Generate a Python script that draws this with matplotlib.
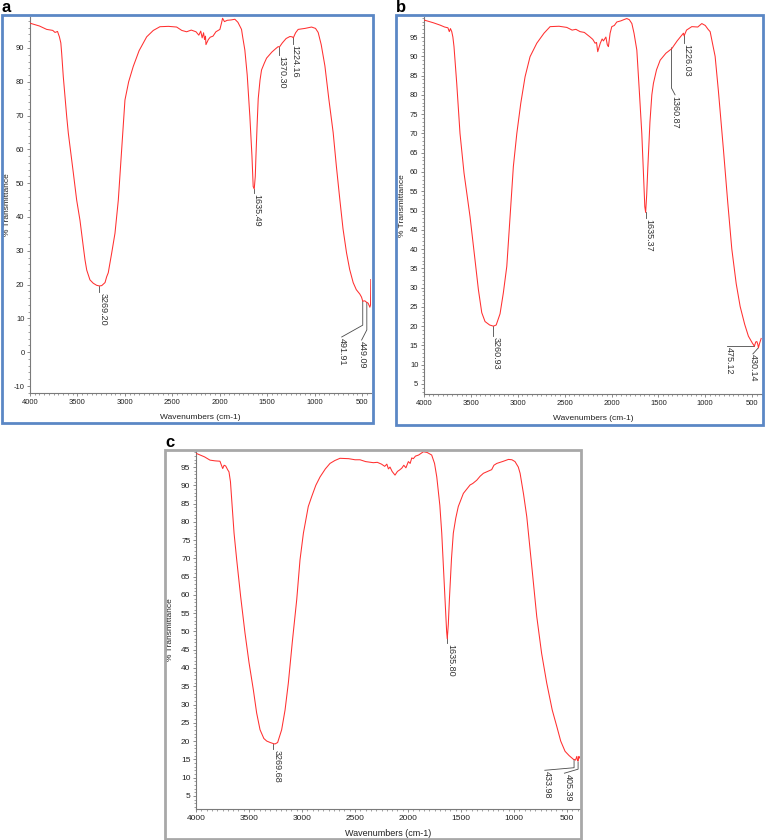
import matplotlib
matplotlib.use('Agg')
import matplotlib.pyplot as plt
from matplotlib.patches import Rectangle
from matplotlib.ticker import MultipleLocator
from matplotlib import font_manager

# ---------------- data ----------------
a_wn = [3995, 3900, 3824, 3780, 3760, 3736, 3710, 3690, 3675, 3666,
        3649, 3613, 3596, 3543, 3508, 3473, 3438, 3420, 3402, 3368,
        3333, 3298, 3269, 3244, 3209, 3192, 3175, 3139, 3104, 3069,
        3034, 2999, 2960, 2912, 2850, 2770, 2700, 2630, 2540, 2454,
        2400, 2349, 2300, 2250, 2220, 2200, 2185, 2170, 2160, 2150,
        2145, 2120, 2100, 2071, 2040, 1998, 1980, 1970, 1950, 1920,
        1880, 1840, 1808, 1770, 1758, 1735, 1710, 1682, 1660, 1647,
        1636, 1625, 1618, 1606, 1594, 1575, 1559, 1530, 1506, 1450,
        1410, 1384, 1370, 1340, 1300, 1260, 1235, 1224, 1200, 1173,
        1100, 1032, 990, 962, 930, 891, 850, 804, 770, 733,
        700, 663, 630, 593, 560, 523, 505, 492, 470, 453,
        435, 417, 410, 407]
a_T = [97.3, 96.5, 95.5, 95.3, 95.2, 94.6, 94.9, 93.3, 91.5, 88.4,
       81.5, 69.7, 64.8, 53.0, 45.0, 39.0, 31.2, 27.3, 24.3, 21.4,
       20.4, 19.8, 19.6, 19.7, 20.6, 22.3, 23.5, 29.3, 35.2, 45.0,
       59.8, 74.6, 80.0, 84.5, 89.2, 93.3, 95.2, 96.3, 96.4, 96.2,
       95.2, 94.8, 95.3, 94.8, 93.8, 95.0, 93.0, 94.5, 92.5, 93.5,
       91.0, 92.5, 93.2, 93.5, 94.8, 95.5, 97.5, 98.8, 97.8, 98.2,
       98.3, 98.5, 97.6, 95.5, 93.3, 89.4, 82.0, 69.7, 58.0, 49.0,
       48.3, 52.0, 58.0, 67.0, 75.0, 80.5, 83.5, 85.5, 87.0, 88.8,
       89.8, 90.4, 90.3, 91.5, 92.8, 93.4, 93.3, 93.0, 94.5, 95.5,
       95.8, 96.2, 95.8, 94.6, 91.0, 84.7, 75.0, 65.0, 55.0, 45.0,
       36.5, 29.4, 24.5, 20.6, 18.5, 17.2, 16.3, 15.1, 15.2, 14.8,
       14.5, 13.3, 14.0, 21.5]

b_wn = [3997, 3900, 3829, 3780, 3745, 3730, 3718, 3704, 3692, 3680,
        3651, 3616, 3573, 3509, 3456, 3420, 3384, 3349, 3300, 3260,
        3230, 3189, 3154, 3117, 3082, 3047, 3010, 2968, 2922, 2869,
        2797, 2720, 2655, 2560, 2477, 2420, 2380, 2335, 2290, 2228,
        2200, 2175, 2160, 2147, 2120, 2100, 2086, 2060, 2045, 2033,
        2015, 1997, 1970, 1944, 1900, 1870, 1837, 1810, 1783, 1760,
        1730, 1702, 1677, 1660, 1645, 1636, 1625, 1613, 1590, 1570,
        1553, 1520, 1481, 1420, 1357, 1300, 1260, 1233, 1226, 1200,
        1144, 1080, 1037, 1000, 970, 948, 920, 895, 860, 806,
        760, 717, 670, 628, 580, 540, 500, 476, 462, 450,
        440, 433, 420, 404]
b_T = [99.4, 98.7, 98.1, 97.6, 97.4, 96.4, 97.2, 96.4, 95.0, 92.5,
       83.0, 70.0, 59.7, 48.4, 37.2, 29.5, 23.5, 21.2, 20.3, 20.0,
       20.3, 23.2, 28.6, 35.5, 48.4, 61.4, 70.0, 77.8, 84.7, 89.9,
       93.4, 96.0, 97.7, 97.8, 97.5, 96.8, 97.0, 96.4, 96.2, 95.0,
       94.4, 93.4, 93.6, 91.2, 93.4, 94.5, 94.0, 95.0, 93.0, 92.5,
       96.0, 97.7, 98.0, 98.9, 99.2, 99.5, 99.8, 99.5, 98.5, 96.0,
       91.6, 80.4, 70.0, 60.0, 51.0, 49.5, 54.0, 61.0, 73.0, 80.0,
       83.0, 86.5, 89.0, 90.8, 92.0, 94.0, 95.2, 96.0, 95.3, 96.8,
       97.7, 97.6, 98.5, 98.0, 97.0, 96.4, 93.0, 90.0, 81.0, 65.7,
       52.0, 40.0, 31.0, 25.1, 20.5, 17.4, 15.7, 14.8, 15.9, 16.0,
       15.3, 14.4, 15.6, 16.8]

c_wn = [3994, 3920, 3868, 3820, 3774, 3760, 3748, 3735, 3720, 3700,
        3689, 3675, 3663, 3641, 3616, 3579, 3538, 3500, 3459, 3428,
        3396, 3360, 3333, 3300, 3270, 3255, 3230, 3192, 3160, 3129,
        3091, 3050, 3019, 2987, 2941, 2909, 2870, 2830, 2780, 2736,
        2690, 2642, 2560, 2500, 2453, 2400, 2327, 2290, 2250, 2220,
        2200, 2185, 2170, 2150, 2123, 2100, 2080, 2059, 2040, 2020,
        1997, 1980, 1965, 1950, 1930, 1900, 1855, 1820, 1777, 1750,
        1729, 1700, 1682, 1651, 1636, 1630, 1620, 1610, 1590, 1573,
        1550, 1526, 1478, 1415, 1390, 1352, 1320, 1289, 1250, 1211,
        1190, 1163, 1100, 1053, 1020, 991, 960, 943, 910, 880,
        830, 786, 740, 692, 640, 597, 560, 519, 480, 440,
        420, 408, 400, 395, 388, 384]
c_T = [98.7, 97.8, 96.9, 96.7, 96.6, 95.5, 94.6, 95.5, 95.3, 94.2,
       93.7, 91.0, 86.0, 76.9, 69.6, 59.6, 49.6, 41.5, 34.0, 27.7,
       23.1, 20.7, 20.0, 19.6, 19.3, 19.2, 19.6, 23.1, 28.5, 35.9,
       47.3, 58.7, 69.6, 76.9, 84.2, 86.9, 90.0, 92.3, 94.5, 96.0,
       96.8, 97.4, 97.3, 97.0, 97.0, 96.5, 96.2, 96.3, 95.8, 95.2,
       95.8, 94.5, 95.0, 93.8, 92.8, 93.8, 94.2, 94.7, 95.5, 94.8,
       96.5, 96.0, 97.5, 97.3, 98.0, 98.3, 99.2, 99.0, 98.3, 96.0,
       92.3, 84.5, 76.9, 58.7, 50.0, 48.0, 52.0, 58.7, 70.0, 76.9,
       81.0, 84.2, 87.8, 90.1, 90.5, 91.4, 92.5, 93.3, 93.8, 94.3,
       95.5, 96.0, 96.6, 97.1, 97.0, 96.5, 95.0, 93.3, 87.5, 81.4,
       67.0, 54.1, 44.0, 35.9, 28.5, 24.0, 20.0, 17.2, 16.0, 15.0,
       14.8, 15.8, 14.6, 14.6, 15.8, 15.4]

# peak labels: text, leader path (wavenumber, %T vertices), text anchor
a_labels = ['3269.20', '1635.49', '1370.30', '1224.16', '491.91', '449.09']
a_paths = [[(3269, 19.6), (3269, 17.8)],
           [(1636, 48.3), (1636, 47.0)],
           [(1376, 90.3), (1376, 88.0)],
           [(1230, 93.3), (1230, 91.2)],
           [(492, 15.1), (492, 8.0), (714, 4.5)],
           [(449, 14.7), (449, 6.6), (504, 3.6)]]
a_text = [(3232, 17.6), (1610, 46.9), (1347, 87.6), (1205, 91.0),
          (708, 4.3), (493, 3.4)]

b_labels = ['3260.93', '1635.37', '1360.87', '1226.03', '475.12', '430.14']
b_paths = [[(3261, 20.0), (3261, 17.5)],
           [(1636, 49.5), (1636, 48.1)],
           [(1361, 92.2), (1361, 81.8), (1322, 80.0)],
           [(1228, 95.5), (1228, 93.4)],
           [(476, 14.8), (770, 14.8)],
           [(433, 14.4), (492, 12.8)]]
b_text = [(3232, 17.3), (1606, 47.9), (1322, 79.8), (1196, 93.2),
          (740, 14.6), (492, 12.7)]

c_labels = ['3269.68', '1635.80', '433.98', '405.39']
c_paths = [[(3270, 19.3), (3270, 17.7)],
           [(1636, 49.0), (1636, 46.9)],
           [(434, 14.9), (434, 12.7), (710, 12.0)],
           [(396, 14.3), (396, 12.3), (525, 11.2)]]
c_text = [(3239, 17.6), (1594, 46.6), (682, 11.9), (487, 11.1)]

x_ticks = [4000, 3500, 3000, 2500, 2000, 1500, 1000, 500]
a_yticks = list(range(-10, 91, 10))
b_yticks = list(range(5, 96, 5))
c_yticks = list(range(5, 96, 5))

# ---------------- figure ----------------
W, H = 765, 840
fig = plt.figure(figsize=(W / 100, H / 100), dpi=100)
fig.patch.set_facecolor('white')


def has_font(name):
    try:
        font_manager.findfont(name, fallback_to_default=False)
        return True
    except Exception:
        return False


NARROW = 'Liberation Sans Narrow' if has_font('Liberation Sans Narrow') else 'Liberation Sans'
SANS = 'Liberation Sans'
RED = '#ff3030'
GRAY = '#4a4a4a'
AXC = '#7a7a7a'


def fx(px):
    return px / W


def fy(py):
    return 1 - py / H


def frame(x0, y0, x1, y1, color):
    r = Rectangle((fx(x0), fy(y1)), (x1 - x0) / W, (y1 - y0) / H,
                  transform=fig.transFigure, fill=False, edgecolor=color,
                  linewidth=2.0, zorder=10)
    fig.add_artist(r)


def panel(box, xlim, ylim, yticks, yminor, wn, T, labels, paths, texts,
          letter, letter_xy, tick_size, ylab_px):
    x0, y0, x1, y1 = box
    ax = fig.add_axes([fx(x0), fy(y1), (x1 - x0) / W, (y1 - y0) / H])
    ax.plot(wn, T, color=RED, lw=0.75, zorder=3)
    ax.set_xlim(*xlim)
    ax.set_ylim(*ylim)
    ax.set_xticks(x_ticks)
    ax.set_xticklabels([str(v) for v in x_ticks], family=NARROW, fontsize=tick_size)
    ax.xaxis.set_minor_locator(MultipleLocator(50))
    ax.set_yticks(yticks)
    ax.set_yticklabels([str(v) for v in yticks], family=NARROW, fontsize=tick_size)
    ax.yaxis.set_minor_locator(MultipleLocator(yminor))
    for s in ['top', 'right']:
        ax.spines[s].set_visible(False)
    for s in ['left', 'bottom']:
        ax.spines[s].set_color(AXC)
        ax.spines[s].set_linewidth(0.8)
    ax.tick_params(which='major', length=2.5, width=0.6, color=AXC, pad=1.5,
                   labelcolor='#222222')
    ax.tick_params(which='minor', length=1.3, width=0.5, color=AXC)
    ax.set_xlabel('Wavenumbers (cm-1)', family=NARROW, fontsize=tick_size + 0.5,
                  color='#222222')
    ax.set_ylabel('% Transmittance', family=SANS, fontsize=6, color='#222222',
                  va='center')
    ax.xaxis.set_label_coords(0.5, -0.055)
    ax.yaxis.set_label_coords((ylab_px - x0) / (x1 - x0), 0.5)
    for lab, path, (tx, ty) in zip(labels, paths, texts):
        xs = [p[0] for p in path]
        ys = [p[1] for p in path]
        ax.plot(xs, ys, color=GRAY, lw=0.6, zorder=2)
        ax.text(tx, ty, lab, rotation=270, ha='center', va='top',
                fontsize=6.5, family=SANS, color='#333333')
    fig.text(fx(letter_xy[0]), fy(letter_xy[1]), letter, fontsize=12,
             fontweight='bold', family=SANS, va='baseline', ha='left')
    return ax


panel((30, 17, 371, 393), (4000, 405), (-12.07, 99.17), a_yticks, 2,
      a_wn, a_T, a_labels, a_paths, a_text, 'a', (2, 12), 5.5, 8)
panel((424, 17, 762, 394), (4000, 395), (2.4, 100.2), b_yticks, 1,
      b_wn, b_T, b_labels, b_paths, b_text, 'b', (396, 12), 5.5, 402)
panel((196, 451, 580, 809), (4000, 378), (1.4, 99.4), c_yticks, 1,
      c_wn, c_T, c_labels, c_paths, c_text, 'c', (165, 447), 6, 171)

frame(2, 15, 373, 423, '#5b87c5')
frame(396, 15, 763, 425, '#5b87c5')
frame(165, 450, 581, 839, '#a8a8a8')

fig.savefig('out.png', dpi=100, facecolor='white')
